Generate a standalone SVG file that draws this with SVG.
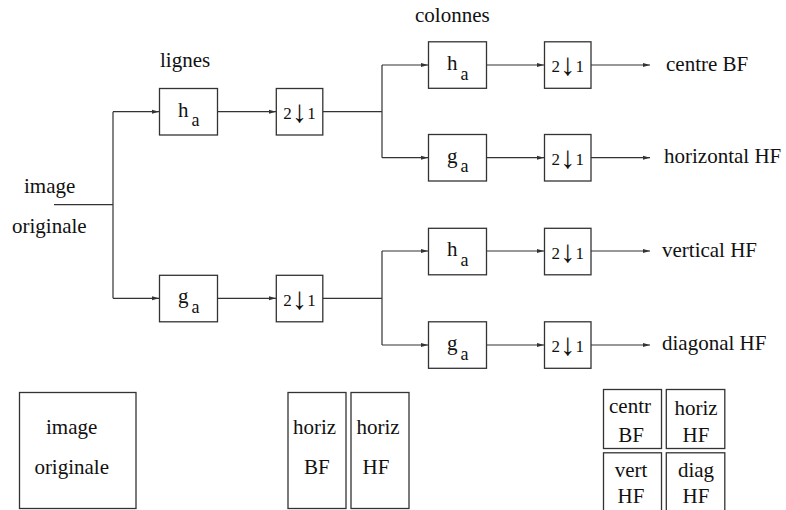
<svg xmlns="http://www.w3.org/2000/svg" width="786" height="510" viewBox="0 0 786 510" font-family="'Liberation Serif', 'Times New Roman', serif">
<style>
text{font-family:'Liberation Serif','Times New Roman',serif;font-size:21px;fill:#111}
.b{fill:#fff;stroke:#333;stroke-width:1.3}
.l{fill:none;stroke:#333;stroke-width:1.2}
.a{marker-end:url(#ar)}
.d{font-size:17px}
.m{text-anchor:middle}
.ar{font-family:'Liberation Serif',serif;font-size:31px}
</style>
<defs>
<marker id="ar" markerWidth="8" markerHeight="6" refX="7" refY="3" orient="auto" markerUnits="userSpaceOnUse">
<path d="M0,1 L7,3 L0,5 Z" fill="#333"/>
</marker>
</defs>
<rect width="786" height="510" fill="#fff"/>
<g id="connectors">
<path class="l" d="M54,204.7 H113 M113,111.7 V298.3"/>
<path class="l a" d="M113,111.7 H159"/>
<path class="l a" d="M113,298.3 H159"/>
<path class="l a" d="M218,111.7 H276"/>
<path class="l a" d="M218,298.3 H276"/>
<path class="l" d="M323,111.7 H382 M382,65 V157.7"/>
<path class="l" d="M323,298.3 H382 M382,251 V345"/>
<path class="l a" d="M382,65 H428"/>
<path class="l a" d="M382,157.7 H428"/>
<path class="l a" d="M382,251 H428"/>
<path class="l a" d="M382,345 H428"/>
<path class="l a" d="M486,65 H544"/>
<path class="l a" d="M486,157.7 H544"/>
<path class="l a" d="M486,251 H544"/>
<path class="l a" d="M486,345 H544"/>
<path class="l a" d="M591,65 H650"/>
<path class="l a" d="M591,157.7 H650"/>
<path class="l a" d="M591,251 H650"/>
<path class="l a" d="M591,345 H650"/>
</g>
<g id="labels">
<text x="160" y="66.7">lignes</text>
<text x="415" y="21.7">colonnes</text>
<text x="24" y="193">image</text>
<text x="12" y="232.7">originale</text>
<text x="666" y="70.7">centre BF</text>
<text x="664" y="163.3">horizontal HF</text>
<text x="662" y="256.7">vertical HF</text>
<text x="662" y="350">diagonal HF</text>
</g>
<g id="ha1"><rect class="b" x="159.5" y="88.5" width="58" height="46.5"/><text x="178" y="116.7">h<tspan dx="3" dy="9.5" font-size="18">a</tspan></text></g>
<g id="ga1"><rect class="b" x="159.5" y="275.3" width="58" height="46.5"/><text x="178" y="303.3">g<tspan dx="3" dy="9.5" font-size="18">a</tspan></text></g>
<g id="ds1"><rect class="b" x="276.3" y="88.5" width="46.5" height="46.5"/><text class="d m" x="299.5" y="119">2<tspan class="ar" dy="3">↓</tspan><tspan dy="-3">1</tspan></text></g>
<g id="ds2"><rect class="b" x="276.3" y="275.3" width="46.5" height="46.5"/><text class="d m" x="299.5" y="306">2<tspan class="ar" dy="3">↓</tspan><tspan dy="-3">1</tspan></text></g>
<g id="ha2"><rect class="b" x="428.5" y="41.8" width="58" height="46.5"/><text x="447" y="70">h<tspan dx="3" dy="9.5" font-size="18">a</tspan></text></g>
<g id="ga2"><rect class="b" x="428.5" y="134.5" width="58" height="46.5"/><text x="447" y="162.7">g<tspan dx="3" dy="9.5" font-size="18">a</tspan></text></g>
<g id="ha3"><rect class="b" x="428.5" y="228.3" width="58" height="46.5"/><text x="447" y="256">h<tspan dx="3" dy="9.5" font-size="18">a</tspan></text></g>
<g id="ga3"><rect class="b" x="428.5" y="321.8" width="58" height="46.5"/><text x="447" y="350">g<tspan dx="3" dy="9.5" font-size="18">a</tspan></text></g>
<g id="ds3"><rect class="b" x="544.5" y="41.8" width="46.5" height="46.5"/><text class="d m" x="567.7" y="72.3">2<tspan class="ar" dy="3">↓</tspan><tspan dy="-3">1</tspan></text></g>
<g id="ds4"><rect class="b" x="544.5" y="134.5" width="46.5" height="46.5"/><text class="d m" x="567.7" y="165">2<tspan class="ar" dy="3">↓</tspan><tspan dy="-3">1</tspan></text></g>
<g id="ds5"><rect class="b" x="544.5" y="228.3" width="46.5" height="46.5"/><text class="d m" x="567.7" y="258.6">2<tspan class="ar" dy="3">↓</tspan><tspan dy="-3">1</tspan></text></g>
<g id="ds6"><rect class="b" x="544.5" y="321.8" width="46.5" height="46.5"/><text class="d m" x="567.7" y="352.3">2<tspan class="ar" dy="3">↓</tspan><tspan dy="-3">1</tspan></text></g>
<g id="img"><rect class="b" x="19.5" y="392.5" width="116.5" height="116"/><text class="m" x="71.7" y="434">image</text><text class="m" x="71.7" y="474">originale</text></g>
<g id="horizBF"><rect class="b" x="288" y="392.5" width="58" height="116"/><text class="m" x="314.5" y="434">horiz</text><text class="m" x="316.8" y="474">BF</text></g>
<g id="horizHF"><rect class="b" x="351" y="392.5" width="58" height="116"/><text class="m" x="378" y="434">horiz</text><text class="m" x="376" y="474">HF</text></g>
<g id="centrBF"><rect class="b" x="603.5" y="389.5" width="58" height="59"/><text class="m" x="630" y="413.3">centr</text><text class="m" x="631" y="441.7">BF</text></g>
<g id="horizHF2"><rect class="b" x="666.3" y="389.5" width="58.5" height="59"/><text class="m" x="696" y="415">horiz</text><text class="m" x="696" y="441.7">HF</text></g>
<g id="vertHF"><rect class="b" x="603.5" y="452.8" width="58" height="70"/><text class="m" x="631" y="476.7">vert</text><text class="m" x="631" y="503.3">HF</text></g>
<g id="diagHF"><rect class="b" x="666.3" y="452.8" width="58.5" height="70"/><text class="m" x="696" y="476.7">diag</text><text class="m" x="696" y="503.3">HF</text></g>
</svg>
